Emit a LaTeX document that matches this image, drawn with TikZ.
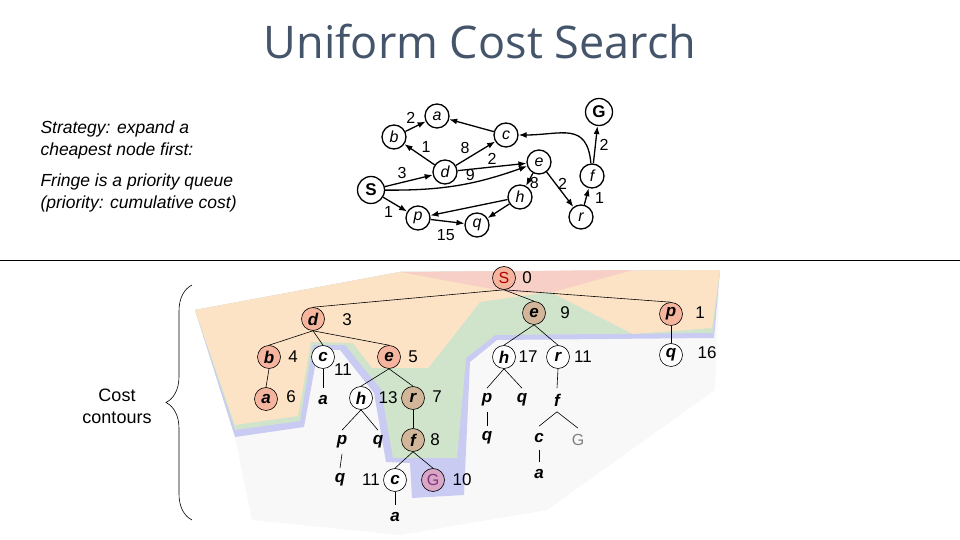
\documentclass[tikz,border=0pt]{standalone}
\usepackage{fontspec}
\setmainfont{Liberation Sans}
\newfontfamily\titlefont{Open Sans}
\usepackage{xcolor}
\usetikzlibrary{automata,arrows.meta,decorations.pathreplacing}

\definecolor{titlegray}{HTML}{44546A}
\definecolor{zonegray}{HTML}{F8F8F9}
\definecolor{zoneblue}{HTML}{C9CBF2}
\definecolor{zonegreen}{HTML}{CFE4CB}
\definecolor{zoneorange}{HTML}{FDE3C6}
\definecolor{zonepink}{HTML}{F8CFC6}
\definecolor{salmon}{HTML}{F5B49E}
\definecolor{tan}{HTML}{D2B699}
\definecolor{goalpink}{HTML}{D9A6C6}

\begin{document}
\begin{tikzpicture}[x=1pt,y=1pt,>={Latex[length=8pt,width=6pt]},
	every state/.style={draw,circle,minimum size=24pt,inner sep=0pt,line width=1.3pt,
		font=\fontsize{16}{16}\selectfont\itshape},
	numlbl/.style={font=\fontsize{16}{16}\selectfont,inner sep=1.5pt},
	tnode/.style={circle,draw,line width=0.6pt,minimum size=23pt,inner sep=0pt,
		font=\fontsize{17}{17}\selectfont\bfseries\itshape},
	tleaf/.style={tnode,draw=none},
	tcost/.style={font=\fontsize{17}{17}\selectfont},
	tedge/.style={line width=0.6pt}]
	\useasboundingbox (0,0) rectangle (960,540);
	\fill[white] (0,0) rectangle (960,540);

	% title and notes
	\node[font=\titlefont\fontsize{45}{45}\selectfont,text=titlegray] (title) at (480,498) {Uniform Cost Search};
	\node[anchor=base west,align=left,font=\fontsize{17.5}{22}\selectfont\itshape] (strategy) at (37,384) {Strategy: expand a\\cheapest node first:};
	\node[anchor=base west,align=left,font=\fontsize{17.5}{22}\selectfont\itshape] (fringe) at (37,331) {Fringe is a priority queue\\(priority: cumulative cost)};

	% state graph
	\node[state,font=\fontsize{17}{17}\selectfont\bfseries,minimum size=27pt] (S) at (371,350) {S};
	\node[state] (a) at (437,424) {a};
	\node[state] (b) at (394,403) {b};
	\node[state] (c) at (506,405) {c};
	\node[state] (d) at (445,368) {d};
	\node[state] (e) at (539,378) {e};
	\node[state] (h) at (520,343) {h};
	\node[state] (p) at (418,322) {p};
	\node[state] (q) at (477,315) {q};
	\node[state] (r) at (581,323) {r};
	\node[state] (f) at (592,364) {f};
	\node[state,font=\fontsize{17}{17}\selectfont\bfseries,minimum size=27pt] (G) at (599,428) {G};

	\path[->,line width=1.3pt,every node/.style={numlbl}]
	(S) edge node[above left] {3} (d)
	(S) edge node[below left] {1} (p)
	(S) edge[bend right=10] node[pos=0.6,above] {9} (e)
	(b) edge node[pos=0.6,above left] {2} (a)
	(d) edge node[above right] {1} (b)
	(d) edge node[pos=0.4,above left] {8} (c)
	(d) edge node[above] {2} (e)
	(c) edge (a)
	(e) edge node[pos=0.75,right] {8} (h)
	(e) edge node[pos=0.35,right] {2} (r)
	(h) edge (p)
	(h) edge (q)
	(p) edge node[pos=0.45,below=6pt] {15} (q)
	(r) edge node[pos=0.4,right=7pt] {1} (f)
	(f) edge node[right=2pt] {2} (G)
	(f) edge[out=95,in=0,looseness=1.4] (c)
	;

	\coordinate (sepL) at (0,280);
	\coordinate (sepR) at (960,280);
	\draw[line width=0.8pt] (sepL) -- (sepR);

	% cost contours
	\fill[zonegray] (195,230) -- (400,268) -- (720,270) -- (715,150) -- (547,30) -- (400,5) -- (252,20) -- (235,103) -- cycle;
	\fill[zoneblue] (195,230) -- (400,268) -- (720,270) -- (714,202) -- (497,200) -- (470,178) -- (464,45) -- (412,42) -- (410,77) -- (386,78) -- (374,147) -- (340,190) -- (318,190) -- (304,113) -- (235,103) -- cycle;
	\fill[zonegreen] (195,230) -- (400,268) -- (720,270) -- (713,207) -- (495,205) -- (466,182) -- (457,82) -- (393,82) -- (381,151) -- (345,195) -- (313,195) -- (300,119) -- (235,110) -- cycle;
	\fill[zoneorange] (195,230) -- (400,268) -- (720,270) -- (712,212) -- (633,206) -- (550,248) -- (480,238) -- (452,202) -- (428,172) -- (372,172) -- (353,197) -- (311,198) -- (298,124) -- (235,115) -- cycle;
	\fill[zonepink] (400,268) -- (633,270) -- (553,248) -- (513,247) -- cycle;

	\node[align=center,font=\fontsize{18}{22}\selectfont] (contours) at (117,134) {Cost\\contours};
	\draw[line width=0.6pt,decorate,decoration={brace,amplitude=26pt}] (192,20) -- (192,255);

	% search tree
	\node[tnode,fill=salmon,font=\fontsize{16}{16}\selectfont,text=red!70!black] (tS) at (504,262) {S};
	\node[tnode,fill=salmon] (td) at (313,221) {d};
	\node[tnode,fill=tan] (te) at (534,227) {e};
	\node[tnode,fill=salmon] (tp) at (671,226) {p};
	\node[tnode,fill=salmon] (tb) at (269,183) {b};
	\node[tnode,fill=white] (tc) at (323,183) {c};
	\node[tnode,fill=salmon] (tde) at (389,183) {e};
	\node[tnode,fill=white] (th) at (504,183) {h};
	\node[tnode,fill=white] (tr) at (558,183) {r};
	\node[tnode,fill=white] (tq) at (671,185) {q};
	\node[tnode,fill=salmon] (ta) at (266,141) {a};
	\node[tleaf] (tca) at (323,140) {a};
	\node[tnode,fill=white] (tdeh) at (361,142) {h};
	\node[tnode,fill=tan] (tder) at (413,142) {r};
	\node[tleaf] (thp) at (487,140) {p};
	\node[tleaf] (thq) at (522,140) {q};
	\node[tleaf] (trf) at (557,140) {f};
	\node[tleaf] (tdehp) at (342,98) {p};
	\node[tleaf] (tdehq) at (378,98) {q};
	\node[tnode,fill=tan] (tderf) at (413,100) {f};
	\node[tleaf] (thpq) at (487,102) {q};
	\node[tleaf] (trfc) at (539,102) {c};
	\node[tleaf,font=\fontsize{16}{16}\selectfont,text=gray] (trfG) at (578,100) {G};
	\node[tleaf] (tdehpq) at (340,60) {q};
	\node[tnode,fill=white] (tderfc) at (395,60) {c};
	\node[tnode,fill=goalpink,font=\fontsize{16}{16}\selectfont,text=violet!60!gray] (tderfG) at (433,60) {G};
	\node[tleaf] (trfca) at (539,66) {a};
	\node[tleaf] (tderfca) at (395,23) {a};

	\foreach \u/\v in {tS/td,tS/te,tS/tp,td/tb,td/tc,td/tde,tb/ta,tc/tca,tde/tdeh,tde/tder,
		te/th,te/tr,tp/tq,th/thp,th/thq,tr/trf,tdeh/tdehp,tdeh/tdehq,tder/tderf,thp/thpq,
		trf/trfc,trf/trfG,tdehp/tdehpq,tderf/tderfc,tderf/tderfG,trfc/trfca,tderfc/tderfca}
		\draw[tedge] (\u.south) -- (\v.north);

	% path costs
	\node[tcost] (cS) at (527,262) {0};
	\node[tcost] (cd) at (347,220) {3};
	\node[tcost] (ce) at (565,227) {9};
	\node[tcost] (cp) at (700,227) {1};
	\node[tcost] (cb) at (293,183) {4};
	\node[tcost] (cc) at (343,170) {11};
	\node[tcost] (cde) at (413,183) {5};
	\node[tcost] (ch) at (528,183) {17};
	\node[tcost] (cr) at (583,183) {11};
	\node[tcost] (cq) at (707,187) {16};
	\node[tcost] (ca) at (291,143) {6};
	\node[tcost] (cdeh) at (388,142) {13};
	\node[tcost] (cder) at (437,143) {7};
	\node[tcost] (cderf) at (435,100) {8};
	\node[tcost] (cderfc) at (371,60) {11};
	\node[tcost] (cderfG) at (462,60) {10};
\end{tikzpicture}
\end{document}
